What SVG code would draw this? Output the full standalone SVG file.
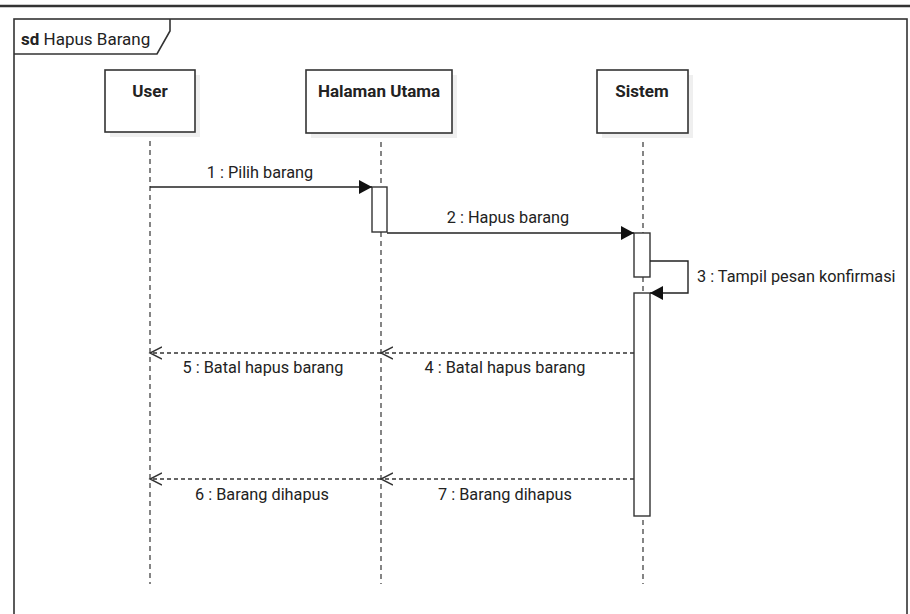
<svg xmlns="http://www.w3.org/2000/svg" width="910" height="614" viewBox="0 0 910 614">
  <style>
    text { font-family: Roboto, "Liberation Sans", sans-serif; fill: #222; }
    .lbl { font-size: 16.3px; }
    .head { font-size: 17px; font-weight: bold; text-anchor: middle; }
    .box { fill: #fff; stroke: #333; stroke-width: 1.6; }
    .shadow { fill: #efefef; }
    .life { stroke: #444; stroke-width: 1.3; stroke-dasharray: 5 4; fill: none; }
    .act { fill: #fff; stroke: #333; stroke-width: 1.4; }
    .msg { stroke: #222; stroke-width: 1.4; fill: none; }
    .ret { stroke: #333; stroke-width: 1.3; stroke-dasharray: 4 3; fill: none; }
  </style>
  <defs>
    <marker id="solid" markerWidth="14" markerHeight="14" refX="13" refY="7" orient="auto" markerUnits="userSpaceOnUse">
      <path d="M0,0 L13,7 L0,14 Z" fill="#111"/>
    </marker>
    <marker id="open" markerWidth="14" markerHeight="14" refX="12" refY="7" orient="auto" markerUnits="userSpaceOnUse">
      <path d="M0,1 L12,7 L0,13" fill="none" stroke="#333" stroke-width="1.4"/>
    </marker>
  </defs>

  <rect width="910" height="614" fill="#fff"/>
  <!-- top rule -->
  <line x1="0" y1="6" x2="910" y2="6" stroke="#333" stroke-width="2.4"/>

  <!-- interaction frame -->
  <g id="frame">
    <rect x="14" y="19" width="893" height="600" fill="none" stroke="#333" stroke-width="1.6"/>
    <path d="M14,54 L157,54 L170,31 L170,19" fill="none" stroke="#333" stroke-width="1.6"/>
    <text x="21" y="45" style="font-size:17px"><tspan font-weight="bold">sd</tspan> Hapus Barang</text>
  </g>

  <!-- lifelines -->
  <g id="lifelines">
    <line class="life" x1="150" y1="132" x2="150" y2="584"/>
    <line class="life" x1="381" y1="133" x2="381" y2="584"/>
    <line class="life" x1="643" y1="133" x2="643" y2="584"/>
  </g>

  <g id="user">
    <rect class="shadow" x="110" y="75" width="90" height="62"/>
    <rect class="box" x="105" y="70" width="90" height="62"/>
    <text class="head" x="150" y="97">User</text>
  </g>
  <g id="halaman-utama">
    <rect class="shadow" x="311" y="75" width="146" height="63"/>
    <rect class="box" x="306" y="70" width="146" height="63"/>
    <text class="head" x="379" y="97">Halaman Utama</text>
  </g>
  <g id="sistem">
    <rect class="shadow" x="602" y="75" width="91" height="63"/>
    <rect class="box" x="597" y="70" width="91" height="63"/>
    <text class="head" x="642" y="97">Sistem</text>
  </g>

  <!-- activation bars -->
  <g id="activations">
    <rect class="act" x="372" y="187" width="15" height="45"/>
    <rect class="act" x="634" y="233" width="16" height="44"/>
    <rect class="act" x="634" y="293" width="16" height="223"/>
  </g>

  <!-- messages -->
  <g id="connectors">
    <line class="msg" x1="150" y1="187" x2="372" y2="187" marker-end="url(#solid)"/>
    <text class="lbl" x="260" y="178" text-anchor="middle">1 : Pilih barang</text>

    <line class="msg" x1="387" y1="233" x2="634" y2="233" marker-end="url(#solid)"/>
    <text class="lbl" x="508" y="223" text-anchor="middle">2 : Hapus barang</text>

    <path class="msg" d="M650,261 L688,261 L688,293 L650,293" marker-end="url(#solid)"/>
    <text class="lbl" x="697" y="282">3 : Tampil pesan konfirmasi</text>

    <line class="ret" x1="634" y1="353" x2="381" y2="353" marker-end="url(#open)"/>
    <text class="lbl" x="505" y="373" text-anchor="middle">4 : Batal hapus barang</text>

    <line class="ret" x1="381" y1="353" x2="150" y2="353" marker-end="url(#open)"/>
    <text class="lbl" x="263" y="373" text-anchor="middle">5 : Batal hapus barang</text>

    <line class="ret" x1="634" y1="479" x2="381" y2="479" marker-end="url(#open)"/>
    <text class="lbl" x="505" y="500" text-anchor="middle">7 : Barang dihapus</text>

    <line class="ret" x1="381" y1="479" x2="150" y2="479" marker-end="url(#open)"/>
    <text class="lbl" x="262" y="500" text-anchor="middle">6 : Barang dihapus</text>
  </g>
</svg>
